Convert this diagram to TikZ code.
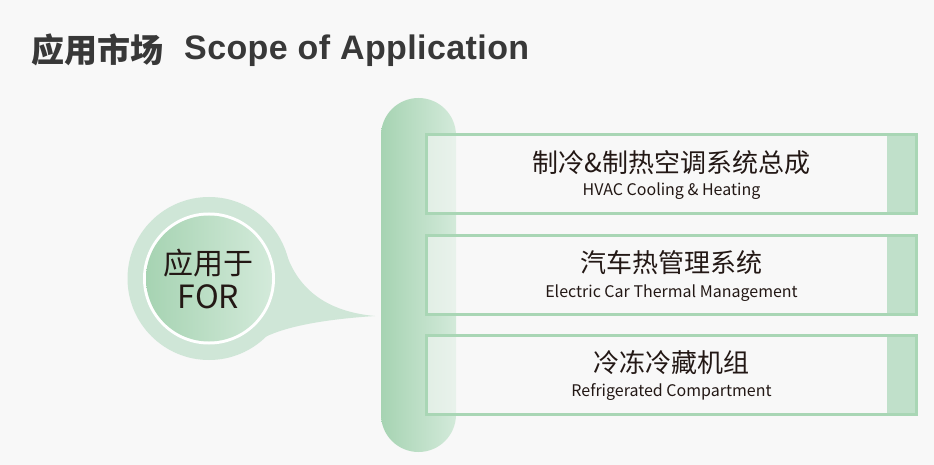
\documentclass[tikz,border=0pt]{standalone}
\usepackage{fontspec}
\newfontfamily\cjk{Noto Sans CJK SC}
\newfontfamily\titlefont[LetterSpace=1.2]{Liberation Sans}
\definecolor{bg}{HTML}{F8F8F8}
\definecolor{gdark}{HTML}{A6D3B2}
\definecolor{glight}{HTML}{D3EADA}
\definecolor{gborder}{HTML}{A9D6B5}
\definecolor{gstrip}{HTML}{C0E0CA}
\definecolor{gpale}{HTML}{CFE6D7}
\definecolor{ink}{HTML}{231815}
\definecolor{titleink}{HTML}{383838}
\begin{document}
\begin{tikzpicture}[x=1pt,y=-1pt,
  cn/.style={font=\cjk\fontsize{26}{30}\selectfont, text=ink, inner sep=0pt, anchor=center},
  en/.style={font=\cjk\fontsize{16}{20}\selectfont, text=ink, inner sep=0pt, anchor=base},
  boxfill/.style={fill=bg, fill opacity=0.6, inner sep=0pt, outer sep=0pt, minimum width=490pt, minimum height=79pt},
  boxline/.style={draw=gborder, line width=3pt},
]
\useasboundingbox (0,0) rectangle (934,465);
\fill[bg] (0,0) rectangle (934,465);

% title
\node[font=\cjk\bfseries\fontsize{33}{36}\selectfont, text=titleink, anchor=west, inner sep=0pt] (tcn) at (31,49.5) {应用市场};
\node[font=\titlefont\bfseries\fontsize{34}{38}\selectfont, text=titleink, anchor=base west, inner sep=0pt] (ten) at (184,60) {Scope of Application};

% vertical bar
\shade[left color=gdark, right color=glight, rounded corners=37.5pt] (381,98) rectangle (456,452);

% pointer circle
\fill[gpale] (209,278.5) circle (81.5);
\fill[gpale] (285,250) .. controls (298,292) and (330,312) .. (375,316)
  .. controls (330,319) and (290,325) .. (265,337) -- (220,290) -- cycle;
\fill[white] (209,278.5) circle (66);
\shade[left color=gdark, right color=glight] (209,278.5) circle (63);
\node[font=\cjk\fontsize{30}{34}\selectfont, text=ink, inner sep=0pt] (for1) at (208.5,263) {应用于};
\node[font=\cjk\fontsize{32}{34}\selectfont, text=ink, inner sep=0pt, anchor=base] (for2) at (208.5,308) {FOR};

% boxes
\node[boxfill] (b1) at (671.5,174) {};
\fill[gstrip] (b1.north east) ++(-29.5,0) rectangle (b1.south east);
\draw[boxline] (b1.north west) rectangle (b1.south east);
\node[cn] (b1cn) at (671.5,162.5) {制冷\&制热空调系统总成};
\node[en] (b1en) at (671.5,196) {HVAC Cooling \& Heating};

\node[boxfill] (b2) at (671.5,275) {};
\fill[gstrip] (b2.north east) ++(-29.5,0) rectangle (b2.south east);
\draw[boxline] (b2.north west) rectangle (b2.south east);
\node[cn] (b2cn) at (671.5,263) {汽车热管理系统};
\node[en] (b2en) at (671.5,297) {Electric Car Thermal Management};

\node[boxfill] (b3) at (671.5,375) {};
\fill[gstrip] (b3.north east) ++(-29.5,0) rectangle (b3.south east);
\draw[boxline] (b3.north west) rectangle (b3.south east);
\node[cn] (b3cn) at (671.5,363) {冷冻冷藏机组};
\node[en] (b3en) at (671.5,396) {Refrigerated Compartment};
\end{tikzpicture}
\end{document}
